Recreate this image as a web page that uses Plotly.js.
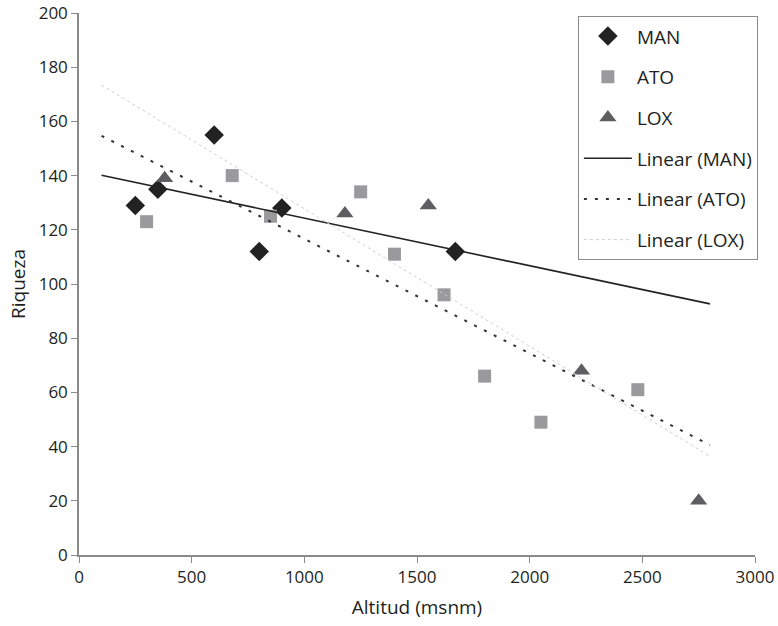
<!DOCTYPE html>
<html>
<head>
<meta charset="utf-8">
<script src="https://cdn.plot.ly/plotly-3.0.1.min.js"></script>
<style>html,body{margin:0;padding:0;background:#fff;}#chart{width:778px;height:626px;}</style>
</head>
<body>
<div id="chart"></div>
<script>
// Data
const manX = [250, 350, 600, 800, 900, 1670];
const manY = [129, 135, 155, 112, 128, 112];
const atoX = [300, 680, 850, 1250, 1400, 1620, 1800, 2050, 2480];
const atoY = [123, 140, 125, 134, 111, 96, 66, 49, 61];
const loxX = [380, 1180, 1550, 2230, 2750];
const loxY = [139, 126, 129, 68, 20];
const trendRange = [100, 2800];
const seriesNames = ["MAN", "ATO", "LOX"];

function linfit(xs, ys) {
  const n = xs.length;
  const mx = xs.reduce((a, b) => a + b, 0) / n;
  const my = ys.reduce((a, b) => a + b, 0) / n;
  let sxy = 0, sxx = 0;
  for (let i = 0; i < n; i++) { sxy += (xs[i] - mx) * (ys[i] - my); sxx += (xs[i] - mx) ** 2; }
  const b = sxy / sxx, a = my - b * mx;
  return trendRange.map(x => a + b * x);
}

const font = "Open Sans, Lato, sans-serif";
const traces = [
  {x: manX, y: manY, name: seriesNames[0], mode: "markers", type: "scatter", legendgroup: "g1",
   marker: {symbol: "diamond", size: 15, color: "#222222"}},
  {x: atoX, y: atoY, name: seriesNames[1], mode: "markers", type: "scatter", legendgroup: "g2",
   marker: {symbol: "square", size: 13, color: "#9a9a9c"}},
  {x: loxX, y: loxY, name: seriesNames[2], mode: "markers", type: "scatter", legendgroup: "g3",
   marker: {symbol: "triangle-up", size: 15, color: "#5e5e60"}},
  {x: trendRange, y: linfit(manX, manY), name: "Linear (" + seriesNames[0] + ")", mode: "lines", legendgroup: "g4",
   line: {color: "#222222", width: 1.6}},
  {x: trendRange, y: linfit(atoX, atoY), name: "Linear (" + seriesNames[1] + ")", mode: "lines", legendgroup: "g5",
   line: {color: "#333333", width: 2, dash: "3px,8px"}},
  {x: trendRange, y: linfit(loxX, loxY), name: "Linear (" + seriesNames[2] + ")", mode: "lines", legendgroup: "g6",
   line: {color: "#cfcfcf", width: 1, dash: "dot"}}
];

const layout = {
  width: 778, height: 626,
  margin: {l: 79, r: 23, t: 13, b: 71},
  paper_bgcolor: "#fff", plot_bgcolor: "#fff",
  font: {family: font, size: 17, color: "#231f20"},
  showlegend: true,
  legend: {x: 0.738, y: 0.994, xanchor: "left", yanchor: "top",
           bordercolor: "#8a8a8a", borderwidth: 1, bgcolor: "#fff",
           traceorder: "grouped", tracegroupgap: 13, itemwidth: 48,
           font: {family: font, size: 19, color: "#231f20"}},
  xaxis: {range: [0, 3000], dtick: 500, showgrid: false, zeroline: false,
          showline: true, linecolor: "#8a8a8a", linewidth: 1.5,
          ticks: "outside", ticklen: 6, tickcolor: "#8a8a8a",
          tickfont: {size: 17},
          title: {text: "Altitud (msnm)", font: {size: 19}, standoff: 14}},
  yaxis: {range: [0, 200], dtick: 20, showgrid: false, zeroline: false,
          showline: true, linecolor: "#8a8a8a", linewidth: 1.5,
          ticks: "outside", ticklen: 6, tickcolor: "#8a8a8a",
          tickfont: {size: 17},
          title: {text: "Riqueza", font: {size: 19}, standoff: 8}}
};

Plotly.newPlot("chart", traces, layout, {displayModeBar: false});
</script>
</body>
</html>
